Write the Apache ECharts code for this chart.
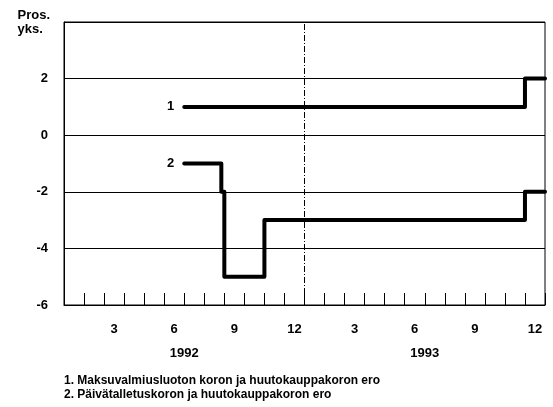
<!DOCTYPE html>
<html>
<head>
<meta charset="utf-8">
<script src="https://cdn.jsdelivr.net/npm/echarts@6/dist/echarts.min.js"></script>
<style>
  html, body { margin: 0; padding: 0; background: #fff; }
  #chart { width: 553px; height: 407px; }
</style>
</head>
<body>
<div id="chart"></div>
<script>
// kuukaudet 1992-1993
var months = ['1','2','3','4','5','6','7','8','9','10','11','12',
              '1','2','3','4','5','6','7','8','9','10','11','12'];
var years = ['1992', '1993'];
// [kuukausi alusta, prosenttiyksikkoa]
var series1 = [[6, 1], [23, 1], [23, 2], [24, 2]];
var series2 = [[6, -1], [7.85, -1], [7.85, -2], [8, -2], [8, -5], [10, -5],
               [10, -3], [23, -3], [23, -2], [24, -2]];
var seriesNames = ['1', '2'];
var notes = [
  '1. Maksuvalmiusluoton koron ja huutokauppakoron ero',
  '2. Päivätalletuskoron ja huutokauppakoron ero'
];

var font = 'Liberation Sans, Arial, sans-serif';
var chart = echarts.init(document.getElementById('chart'));

function startLabel(name) {
  return {
    show: true,
    position: 'left',
    distance: 10,
    formatter: name,
    color: '#000',
    fontFamily: font,
    fontWeight: 'bold',
    fontSize: 13
  };
}

function withLabel(data, name) {
  return data.map(function (d, i) {
    if (i === 0) return { value: d, label: startLabel(name) };
    return { value: d };
  });
}

var option = {
  animation: false,
  grid: {
    left: 64, right: 8, top: 22, bottom: 102,
    show: true, borderColor: '#000', borderWidth: 1
  },
  graphic: [
    {
      type: 'text', right: 553 - 50, top: 8,
      style: { text: 'Pros.\nyks.', fill: '#000', font: 'bold 13px ' + font, align: 'right', lineHeight: 14 }
    },
    {
      type: 'text', left: 64, top: 374,
      style: { text: notes.join('\n'), fill: '#000', font: 'bold 12px ' + font, lineHeight: 14 }
    }
  ],
  xAxis: [
    {
      type: 'category',
      data: months,
      boundaryGap: true,
      axisLine: { show: true, onZero: false, lineStyle: { color: '#000', width: 1 } },
      axisTick: { show: true, inside: true, length: 12, interval: 0, lineStyle: { color: '#000', width: 1 } },
      axisLabel: {
        interval: function (i) { return i % 3 === 2; },
        margin: 18,
        color: '#000',
        fontFamily: font,
        fontWeight: 'bold',
        fontSize: 13
      },
      splitLine: { show: false }
    },
    {
      type: 'category',
      data: years,
      position: 'bottom',
      axisLine: { show: false, onZero: false },
      axisTick: { show: false },
      axisLabel: { margin: 42, color: '#000', fontFamily: font, fontWeight: 'bold', fontSize: 13 },
      splitLine: { show: false }
    },
    {
      type: 'value',
      min: 0, max: 24,
      show: false
    }
  ],
  yAxis: {
    type: 'value',
    min: -6, max: 4, interval: 2,
    axisLine: { show: true, lineStyle: { color: '#000', width: 1 } },
    axisTick: { show: false },
    axisLabel: {
      margin: 16,
      color: '#000',
      fontFamily: font,
      fontWeight: 'bold',
      fontSize: 13,
      formatter: function (v) { return v === 4 ? '' : String(v); }
    },
    splitLine: { show: true, lineStyle: { color: '#000', width: 1 } }
  },
  series: [
    {
      name: seriesNames[0],
      type: 'line',
      xAxisIndex: 2,
      data: withLabel(series1, seriesNames[0]),
      symbol: 'circle',
      symbolSize: 0,
      showSymbol: true,
      lineStyle: { color: '#000', width: 4, cap: 'round', join: 'round' },
      itemStyle: { color: '#000' },
      markLine: {
        silent: true,
        symbol: 'none',
        label: { show: false },
        lineStyle: { color: '#000', width: 1, type: [6, 2, 1, 2] },
        data: [{ xAxis: 12 }]
      },
      z: 3
    },
    {
      name: seriesNames[1],
      type: 'line',
      xAxisIndex: 2,
      data: withLabel(series2, seriesNames[1]),
      symbol: 'circle',
      symbolSize: 0,
      showSymbol: true,
      lineStyle: { color: '#000', width: 4, cap: 'round', join: 'round' },
      itemStyle: { color: '#000' },
      z: 3
    }
  ]
};

chart.setOption(option);
</script>
</body>
</html>
